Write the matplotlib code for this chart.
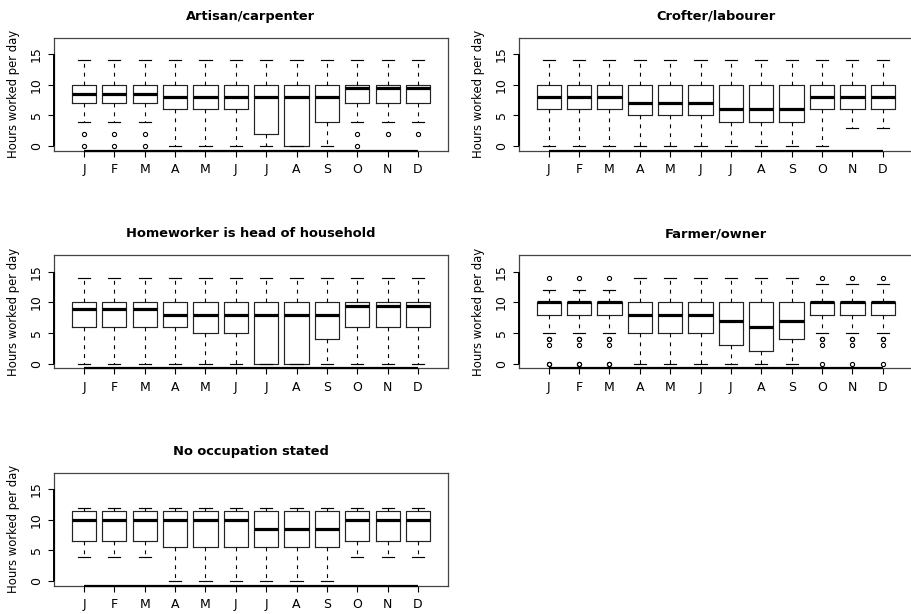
import matplotlib
matplotlib.use("Agg")
import matplotlib.pyplot as plt

months = ["J", "F", "M", "A", "M", "J", "J", "A", "S", "O", "N", "D"]
titles = ["Artisan/carpenter", "Crofter/labourer", "Homeworker is head of household",
          "Farmer/owner", "No occupation stated"]

# Artisan/carpenter
artisan_lo = [4, 4, 4, 0, 0, 0, 0, 0, 0, 4, 4, 4]
artisan_q1 = [7, 7, 7, 6, 6, 6, 2, 0, 4, 7, 7, 7]
artisan_med = [8.5, 8.5, 8.5, 8, 8, 8, 8, 8, 8, 9.5, 9.5, 9.5]
artisan_q3 = [10, 10, 10, 10, 10, 10, 10, 10, 10, 10, 10, 10]
artisan_hi = [14, 14, 14, 14, 14, 14, 14, 14, 14, 14, 14, 14]
artisan_fliers = [[2, 0], [2, 0], [2, 0], [], [], [], [], [], [], [2, 0], [2], [2]]

# Crofter/labourer
crofter_lo = [0, 0, 0, 0, 0, 0, 0, 0, 0, 0, 3, 3]
crofter_q1 = [6, 6, 6, 5, 5, 5, 4, 4, 4, 6, 6, 6]
crofter_med = [8, 8, 8, 7, 7, 7, 6, 6, 6, 8, 8, 8]
crofter_q3 = [10, 10, 10, 10, 10, 10, 10, 10, 10, 10, 10, 10]
crofter_hi = [14, 14, 14, 14, 14, 14, 14, 14, 14, 14, 14, 14]
crofter_fliers = [[], [], [], [], [], [], [], [], [], [], [], []]

# Homeworker is head of household
home_lo = [0, 0, 0, 0, 0, 0, 0, 0, 0, 0, 0, 0]
home_q1 = [6, 6, 6, 6, 5, 5, 0, 0, 4, 6, 6, 6]
home_med = [9, 9, 9, 8, 8, 8, 8, 8, 8, 9.5, 9.5, 9.5]
home_q3 = [10, 10, 10, 10, 10, 10, 10, 10, 10, 10, 10, 10]
home_hi = [14, 14, 14, 14, 14, 14, 14, 14, 14, 14, 14, 14]
home_fliers = [[], [], [], [], [], [], [], [], [], [], [], []]

# Farmer/owner
farmer_lo = [5, 5, 5, 0, 0, 0, 0, 0, 0, 5, 5, 5]
farmer_q1 = [8, 8, 8, 5, 5, 5, 3, 2, 4, 8, 8, 8]
farmer_med = [10, 10, 10, 8, 8, 8, 7, 6, 7, 10, 10, 10]
farmer_q3 = [10, 10, 10, 10, 10, 10, 10, 10, 10, 10, 10, 10]
farmer_hi = [12, 12, 12, 14, 14, 14, 14, 14, 14, 13, 13, 13]
farmer_fliers = [[14, 4, 4, 3, 0, 0], [14, 4, 4, 3, 0, 0], [14, 4, 4, 3, 0, 0],
                 [], [], [], [], [], [],
                 [14, 4, 4, 3, 0], [14, 4, 4, 3, 0], [14, 4, 4, 3, 0]]

# No occupation stated
noocc_lo = [4, 4, 4, 0, 0, 0, 0, 0, 0, 4, 4, 4]
noocc_q1 = [6.5, 6.5, 6.5, 5.5, 5.5, 5.5, 5.5, 5.5, 5.5, 6.5, 6.5, 6.5]
noocc_med = [10, 10, 10, 10, 10, 10, 8.5, 8.5, 8.5, 10, 10, 10]
noocc_q3 = [11.5, 11.5, 11.5, 11.5, 11.5, 11.5, 11.5, 11.5, 11.5, 11.5, 11.5, 11.5]
noocc_hi = [12, 12, 12, 12, 12, 12, 12, 12, 12, 12, 12, 12]
noocc_fliers = [[], [], [], [], [], [], [], [], [], [], [], []]

panels = [
    (artisan_lo, artisan_q1, artisan_med, artisan_q3, artisan_hi, artisan_fliers),
    (crofter_lo, crofter_q1, crofter_med, crofter_q3, crofter_hi, crofter_fliers),
    (home_lo, home_q1, home_med, home_q3, home_hi, home_fliers),
    (farmer_lo, farmer_q1, farmer_med, farmer_q3, farmer_hi, farmer_fliers),
    (noocc_lo, noocc_q1, noocc_med, noocc_q3, noocc_hi, noocc_fliers),
]

W, H = 912, 614
plt.rcParams["font.family"] = "DejaVu Sans"
fig = plt.figure(figsize=(W / 100, H / 100), dpi=100)
ax_w, ax_h = 393.6, 113.0
origins = [(54.2, 37.7), (518.9, 37.7), (54.2, 255.3), (518.9, 255.3), (54.2, 472.7)]

for (lo, q1, med, q3, hi, fl), title, (lx, ty) in zip(panels, titles, origins):
    ax = fig.add_axes([lx / W, 1 - (ty + ax_h) / H, ax_w / W, ax_h / H])
    stats = []
    for i in range(len(months)):
        stats.append(dict(whislo=lo[i], q1=q1[i], med=med[i], q3=q3[i],
                          whishi=hi[i], fliers=fl[i]))
    pos = list(range(1, len(months) + 1))
    ax.bxp(stats, positions=pos, widths=0.8, capwidths=0.4, showfliers=True,
           boxprops=dict(color="#222222", linewidth=0.85),
           whiskerprops=dict(color="black", linewidth=0.8, linestyle=(0, (3.5, 4.5))),
           capprops=dict(color="black", linewidth=0.85),
           medianprops=dict(color="black", linewidth=2.3, solid_capstyle="butt"),
           flierprops=dict(marker="o", markersize=3.0, markerfacecolor="none",
                           markeredgecolor="black", markeredgewidth=0.8))
    ax.set_xlim(0.02, 12.98)
    ax.set_ylim(-0.77, 17.72)
    ax.set_xticks(pos)
    ax.set_xticklabels(months)
    ax.set_yticks([0, 5, 10, 15])
    ax.set_yticklabels(["0", "5", "10", "15"])
    for lbl in ax.get_yticklabels():
        lbl.set_rotation(90)
        lbl.set_va("center")
    ax.tick_params(axis="both", direction="out", length=4.5, width=0.8,
                   labelsize=9.0, colors="black")
    ax.tick_params(axis="x", pad=4.5)
    ax.tick_params(axis="y", pad=3.5)
    for sp in ax.spines.values():
        sp.set_color("#444444")
        sp.set_linewidth(0.9)
    # R-style axis lines spanning first to last tick
    ax.plot([1, 12], [-0.77, -0.77], color="black", lw=1.6, clip_on=False,
            solid_capstyle="butt", zorder=5)
    ax.plot([0.02, 0.02], [0, 15], color="black", lw=1.4, clip_on=False,
            solid_capstyle="butt", zorder=5)
    ax.set_title(title, fontsize=9.4, fontweight="bold", pad=13.1)
    ax.text(-40.2 / ax_w, 0.5, "Hours worked per day", transform=ax.transAxes,
            rotation=90, ha="center", va="center", fontsize=8.4)

fig.savefig("out.png", dpi=100)
